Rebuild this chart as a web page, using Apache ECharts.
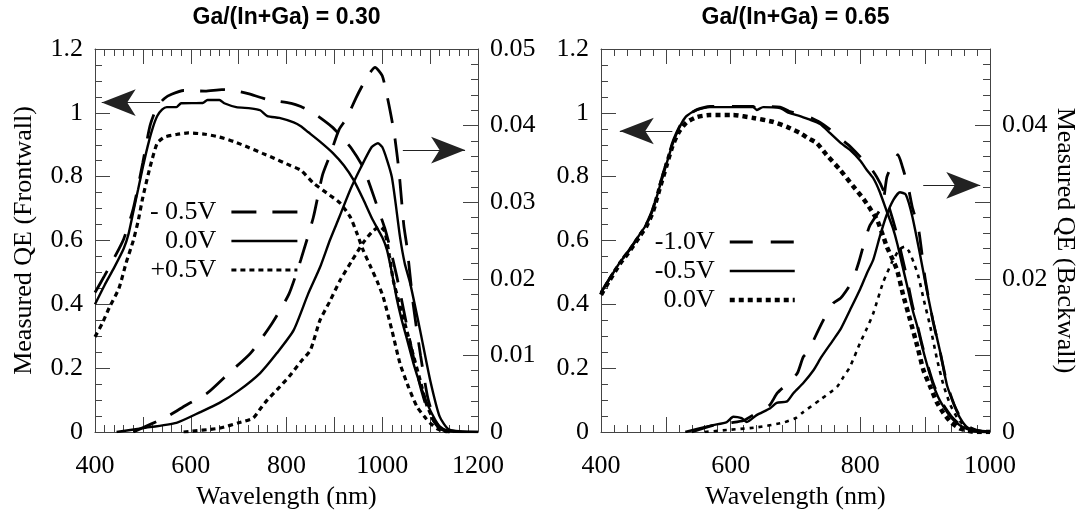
<!DOCTYPE html>
<html>
<head>
<meta charset="utf-8">
<script src="https://cdn.jsdelivr.net/npm/echarts@6/dist/echarts.min.js"></script>
<style>
  html, body { margin: 0; padding: 0; background: #fff; }
  #chart { width: 1082px; height: 518px; }
</style>
</head>
<body>
<div id="chart"></div>
<script>
// panel titles and legend labels
const panelTitles = ['Ga/(In+Ga) = 0.30', 'Ga/(In+Ga) = 0.65'];
const leftVoltages = ['- 0.5V', '0.0V', '+0.5V'];
const rightVoltages = ['-1.0V', '-0.5V', '0.0V'];

// left panel, frontwall QE (left axis)
const leftFrontNeg05 = [[400,0.437],[420,0.49],[440,0.545],[460,0.605],[480,0.70],[500,0.845],[515,0.96],[530,1.02],[545,1.045],[560,1.058],[585,1.07],[630,1.068],[665,1.073],[690,1.07],[720,1.06],[760,1.042],[810,1.03],[830,1.02],[850,1.005],[870,0.985],[895,0.956],[915,0.925],[935,0.89],[960,0.83],[975,0.77],[990,0.705],[1005,0.64],[1015,0.585],[1030,0.49],[1045,0.38],[1060,0.27],[1075,0.17],[1090,0.09],[1105,0.04],[1120,0.012],[1140,0.002],[1160,0]];
const leftFront00 = [[400,0.40],[420,0.46],[440,0.515],[460,0.575],[470,0.62],[480,0.69],[490,0.76],[500,0.83],[510,0.895],[520,0.95],[530,0.99],[540,1.01],[550,1.018],[570,1.018],[580,1.03],[625,1.031],[635,1.04],[660,1.04],[670,1.03],[695,1.018],[725,1.014],[745,1.008],[760,0.99],[785,0.984],[815,0.97],[830,0.958],[845,0.94],[870,0.91],[897,0.874],[920,0.835],[940,0.79],[960,0.73],[980,0.665],[1000,0.61],[1010,0.57],[1020,0.50],[1030,0.42],[1040,0.355],[1050,0.30],[1065,0.216],[1080,0.145],[1095,0.085],[1110,0.04],[1120,0.018],[1135,0.005],[1150,0.001],[1200,0]];
const leftFrontPos05 = [[400,0.298],[415,0.34],[430,0.39],[450,0.45],[465,0.53],[480,0.60],[490,0.66],[500,0.736],[515,0.83],[530,0.905],[545,0.924],[570,0.932],[595,0.937],[630,0.933],[660,0.924],[690,0.91],[720,0.892],[750,0.873],[775,0.857],[800,0.84],[830,0.82],[856,0.78],[884,0.749],[912,0.717],[933,0.674],[947,0.623],[960,0.57],[975,0.52],[990,0.47],[1002,0.423],[1020,0.32],[1037,0.215],[1055,0.14],[1073,0.078],[1090,0.045],[1100,0.028],[1115,0.01],[1130,0.002],[1150,0]];

// left panel, backwall QE (right axis)
const leftBackNeg05 = [[480,0],[550,0.002],[590,0.0035],[635,0.0051],[680,0.0077],[725,0.0103],[770,0.0142],[805,0.018],[830,0.0225],[856,0.028],[875,0.0335],[890,0.036],[910,0.0395],[926,0.041],[945,0.0436],[968,0.0463],[985,0.0476],[1000,0.0465],[1012,0.0433],[1025,0.039],[1035,0.034],[1045,0.027],[1052,0.024],[1065,0.0165],[1080,0.01],[1095,0.0045],[1110,0.0015],[1125,0.0003],[1140,0]];
const leftBack00 = [[445,0],[500,0.0005],[570,0.0012],[620,0.0026],[660,0.0038],[700,0.0054],[745,0.0077],[780,0.0103],[815,0.0133],[845,0.018],[870,0.0215],[891,0.0251],[910,0.028],[933,0.0316],[955,0.0345],[978,0.0372],[991,0.0377],[1000,0.0372],[1010,0.0355],[1020,0.0333],[1027,0.0303],[1037,0.0255],[1047,0.022],[1058,0.0195],[1079,0.0133],[1100,0.0068],[1120,0.002],[1140,0.0003],[1200,0]];
const leftBackPos05 = [[585,0],[660,0.0005],[700,0.0012],[730,0.0018],[745,0.003],[760,0.0042],[780,0.0055],[805,0.0072],[830,0.0092],[850,0.0107],[870,0.0146],[890,0.017],[912,0.0198],[935,0.0222],[960,0.0247],[980,0.0262],[995,0.0268],[1005,0.0262],[1015,0.023],[1023,0.0198],[1037,0.0165],[1051,0.0133],[1065,0.01],[1079,0.0068],[1093,0.0035],[1107,0.0016],[1120,0.0004],[1135,0]];

// right panel, frontwall QE (left axis)
const rightFrontNeg10 = [[400,0.437],[413,0.48],[429,0.532],[445,0.574],[460,0.62],[470,0.652],[480,0.70],[490,0.77],[501,0.845],[510,0.905],[517,0.94],[525,0.972],[532,0.99],[548,1.01],[568,1.02],[600,1.02],[635,1.02],[640,1.012],[650,1.02],[676,1.018],[690,1.005],[707,0.995],[720,0.988],[738,0.97],[753,0.948],[770,0.918],[784,0.895],[800,0.862],[815,0.83],[825,0.8],[835,0.76],[845,0.70],[855,0.63],[862,0.57],[870,0.5],[880,0.4],[888,0.335],[895,0.275],[903,0.215],[912,0.155],[920,0.115],[928,0.085],[940,0.05],[954,0.022],[970,0.006],[985,0.001],[1000,0]];
const rightFrontNeg05 = [[400,0.437],[413,0.479],[429,0.531],[445,0.573],[460,0.62],[470,0.65],[480,0.696],[490,0.765],[501,0.84],[510,0.9],[517,0.937],[525,0.97],[532,0.99],[548,1.009],[568,1.018],[600,1.018],[635,1.018],[640,1.009],[650,1.018],[676,1.015],[690,1.0],[707,0.99],[720,0.98],[738,0.965],[753,0.937],[770,0.905],[784,0.884],[800,0.85],[810,0.821],[820,0.795],[830,0.752],[841,0.69],[850,0.64],[857,0.59],[865,0.52],[872,0.46],[881,0.38],[888,0.33],[895,0.27],[903,0.21],[912,0.15],[920,0.11],[928,0.08],[940,0.045],[954,0.02],[970,0.005],[985,0.001],[1000,0]];
const rightFront00 = [[400,0.43],[413,0.475],[429,0.527],[445,0.57],[460,0.615],[470,0.645],[480,0.69],[490,0.76],[501,0.835],[510,0.895],[520,0.94],[532,0.97],[548,0.987],[568,0.993],[604,0.993],[635,0.984],[665,0.972],[687,0.956],[707,0.937],[720,0.92],[733,0.905],[748,0.868],[769,0.821],[789,0.77],[805,0.73],[815,0.7],[826,0.664],[835,0.615],[841,0.58],[850,0.54],[857,0.505],[866,0.43],[877,0.35],[888,0.268],[897,0.196],[908,0.141],[918,0.093],[928,0.06],[940,0.03],[955,0.01],[970,0.002],[985,0],[1000,0]];

// right panel, backwall QE (right axis)
const rightBackNeg10 = [[540,0],[570,0.0008],[600,0.0012],[620,0.0015],[640,0.0025],[660,0.0035],[672,0.0051],[690,0.0065],[703,0.0077],[712,0.0098],[720,0.0105],[728,0.012],[743,0.0146],[758,0.0168],[770,0.0175],[787,0.0196],[797,0.022],[808,0.0253],[815,0.027],[834,0.0296],[841,0.0333],[850,0.035],[858,0.0362],[865,0.0346],[874,0.0319],[880,0.0294],[890,0.0264],[900,0.02],[912,0.0145],[923,0.0105],[934,0.0062],[945,0.0035],[955,0.0018],[965,0.0008],[980,0.0002],[1000,0]];
const rightBackNeg05 = [[530,0],[553,0.0005],[573,0.0009],[594,0.0013],[604,0.002],[617,0.0018],[625,0.0013],[640,0.0022],[661,0.0031],[671,0.0038],[687,0.004],[697,0.0051],[712,0.0064],[728,0.0081],[740,0.0098],[758,0.012],[770,0.0135],[784,0.0159],[800,0.0187],[810,0.0207],[820,0.0225],[830,0.0255],[840,0.0282],[851,0.0303],[861,0.0313],[870,0.031],[880,0.0282],[892,0.0232],[903,0.0183],[912,0.0146],[923,0.0105],[934,0.006],[945,0.0035],[954,0.0018],[965,0.0006],[980,0.0002],[1000,0]];
const rightBack00 = [[560,0],[600,0.0003],[640,0.0006],[680,0.0012],[700,0.0018],[712,0.0026],[738,0.0042],[764,0.0059],[774,0.0072],[784,0.0085],[800,0.0117],[810,0.0135],[820,0.0155],[835,0.0195],[849,0.0222],[860,0.0238],[868,0.0242],[875,0.0236],[882,0.0222],[889,0.0205],[898,0.0172],[908,0.0137],[918,0.0096],[928,0.0062],[939,0.0035],[950,0.0018],[962,0.0007],[975,0.0002],[990,0]];

const SERIF = 'Liberation Serif';
const INK = '#000';
const AXIS = '#444';

const dashed = { width: 2.8, type: [25, 16] };
const dashedR = { width: 2.8, type: [23, 18] };
const solid = { width: 2.4, type: 'solid' };
const dotted = { width: 3.2, type: [5, 4] };
const dottedBold = { width: 4.5, type: [5, 4] };
const dottedThin = { width: 2.6, type: [4, 5] };

function labelStyle() {
  return { fontFamily: SERIF, fontSize: 26, color: INK };
}

function xAxisPair(gridIndex, min, max, title) {
  const common = {
    type: 'value', gridIndex, min, max, interval: 100,
    axisLine: { onZero: false, lineStyle: { color: AXIS, width: 1 } },
    axisTick: { inside: true, length: 15, lineStyle: { color: AXIS } },
    minorTick: { show: true, splitNumber: 5, length: 7, lineStyle: { color: AXIS } },
    splitLine: { show: false },
  };
  return [
    Object.assign({}, common, {
      position: 'bottom',
      name: 'Wavelength (nm)', nameLocation: 'middle', nameGap: 51,
      nameTextStyle: labelStyle(),
      axisLabel: Object.assign(labelStyle(), {
        margin: 21,
        formatter: (v) => (v % 200 === 0 ? String(v) : ''),
      }),
    }),
    Object.assign({}, common, {
      position: 'top',
      name: title, nameLocation: 'middle', nameGap: 20,
      nameTextStyle: { fontFamily: 'Liberation Sans', fontWeight: 'bold', fontSize: 23, color: INK },
      axisLabel: { show: false },
    }),
  ];
}

function frontAxis(gridIndex, name) {
  return {
    type: 'value', gridIndex, position: 'left', min: 0, max: 1.2, interval: 0.2,
    name: name || '', nameLocation: 'middle', nameGap: 58, nameRotate: 90,
    nameTextStyle: labelStyle(),
    axisLine: { show: true, onZero: false, lineStyle: { color: AXIS, width: 1 } },
    axisTick: { show: true, inside: true, length: 15, lineStyle: { color: AXIS } },
    minorTick: { show: true, splitNumber: 4, length: 7, lineStyle: { color: AXIS } },
    splitLine: { show: false },
    axisLabel: Object.assign(labelStyle(), { margin: 12 }),
  };
}

function backAxis(gridIndex, name, everyOther) {
  return {
    type: 'value', gridIndex, position: 'right', min: 0, max: 0.05, interval: 0.01,
    name: name || '', nameLocation: 'middle', nameGap: 62, nameRotate: -90,
    nameTextStyle: labelStyle(),
    axisLine: { show: true, onZero: false, lineStyle: { color: AXIS, width: 1 } },
    axisTick: { show: true, inside: true, length: 15, lineStyle: { color: AXIS } },
    minorTick: { show: true, splitNumber: 5, length: 7, lineStyle: { color: AXIS } },
    splitLine: { show: false },
    axisLabel: Object.assign(labelStyle(), {
      margin: 12,
      formatter: (v) => {
        const k = Math.round(v * 100);
        if (everyOther && k % 2 !== 0) return '';
        return k === 0 ? '0' : (k / 100).toFixed(2);
      },
    }),
  };
}

function curve(panel, voltage, data, xi, yi, style, arrow) {
  const s = {
    name: panel + '|' + voltage,
    type: 'line', data, xAxisIndex: xi, yAxisIndex: yi,
    symbol: 'none', smooth: 0.2, animation: false,
    lineStyle: { color: INK, width: style.width, type: style.type },
    itemStyle: { color: INK },
    emphasis: { disabled: true },
  };
  if (arrow) {
    s.markLine = {
      silent: true, animation: false,
      symbol: ['none', 'arrow'], symbolSize: [20, 34],
      label: { show: false },
      lineStyle: { color: '#222', width: 1.2, type: 'solid' },
      data: [[{ coord: arrow[0] }, { coord: arrow[1] }]],
    };
  }
  return s;
}

function legendFor(panel, voltages, right, top, width) {
  return {
    data: voltages.map((v) => panel + '|' + v),
    orient: 'vertical', align: 'right', right, top, padding: 0,
    itemWidth: width, itemHeight: 14, itemGap: 3, selectedMode: false,
    itemStyle: { opacity: 0 },
    lineStyle: { width: 'inherit', type: 'inherit' },
    formatter: (n) => n.split('|')[1],
    textStyle: Object.assign(labelStyle(), { lineHeight: 26, padding: [0, 10, 0, 0] }),
  };
}

const option = {
  backgroundColor: '#fff',
  animation: false,
  grid: [
    { left: 95, top: 49, width: 383, height: 383, outerBoundsMode: 'none' },
    { left: 601, top: 49, width: 389, height: 383, outerBoundsMode: 'none' },
  ],
  xAxis: [].concat(xAxisPair(0, 400, 1200, panelTitles[0]), xAxisPair(1, 400, 1000, panelTitles[1])),
  yAxis: [
    frontAxis(0, 'Measured QE (Frontwall)'),
    backAxis(0, '', false),
    frontAxis(1, ''),
    backAxis(1, 'Measured QE (Backwall)', true),
  ],
  legend: [
    legendFor('L', leftVoltages, 783, 199, 66),
    legendFor('R', rightVoltages, 285, 229, 65),
  ],
  series: [
    curve('L', leftVoltages[0], leftFrontNeg05, 0, 0, dashed),
    curve('L', leftVoltages[1], leftFront00, 0, 0, solid, [[536, 1.032], [414, 1.032]]),
    curve('L', leftVoltages[2], leftFrontPos05, 0, 0, dotted),
    curve('L', leftVoltages[0], leftBackNeg05, 0, 1, dashed),
    curve('L', leftVoltages[1], leftBack00, 0, 1, solid, [[1043, 0.0368], [1173, 0.0368]]),
    curve('L', leftVoltages[2], leftBackPos05, 0, 1, dotted),
    curve('R', rightVoltages[0], rightFrontNeg10, 2, 2, dashedR),
    curve('R', rightVoltages[1], rightFrontNeg05, 2, 2, solid, [[510, 0.943], [429, 0.943]]),
    curve('R', rightVoltages[2], rightFront00, 2, 2, dottedBold),
    curve('R', rightVoltages[0], rightBackNeg10, 2, 3, dashedR),
    curve('R', rightVoltages[1], rightBackNeg05, 2, 3, solid, [[897, 0.0322], [985, 0.0322]]),
    curve('R', rightVoltages[2], rightBack00, 2, 3, dottedThin),
  ],
};

const chart = echarts.init(document.getElementById('chart'), null, { renderer: 'canvas' });
chart.setOption(option);
</script>
</body>
</html>
